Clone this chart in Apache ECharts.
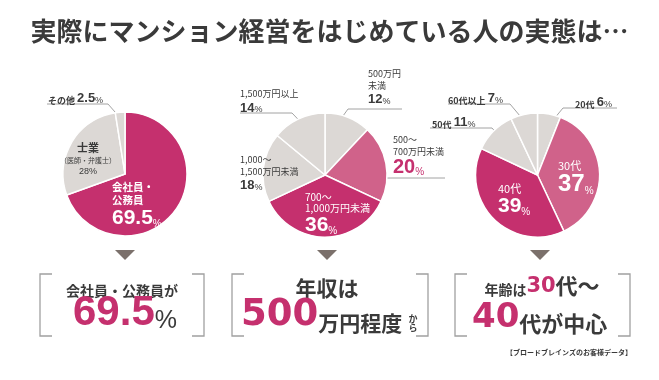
<!DOCTYPE html>
<html><head><meta charset="utf-8">
<script src="https://cdn.jsdelivr.net/npm/echarts@6/dist/echarts.min.js"></script>
<style>html,body{margin:0;padding:0;background:#fff}#c{width:659px;height:380px}</style>
</head><body><div id="c"></div>
<script>
// ---- data ----
const cats1 = ['会社員・\n公務員', '士業\n（医師・弁護士）', 'その他'];
const vals1 = [69.5, 28, 2.5];
const cats2 = ['500万円\n未満', '500〜\n700万円未満', '700〜\n1,000万円未満', '1,000〜\n1,500万円未満', '1,500万円以上'];
const vals2 = [12, 20, 36, 18, 14];
const cats3 = ['20代', '30代', '40代', '50代', '60代以上'];
const vals3 = [6, 37, 39, 11, 7];
const titleText = '実際にマンション経営をはじめている人の実態は…';
const box1Head = '会社員・公務員が', box1Num = '69.5';
const box2Head = '年収は', box2Num = '500', box2Tail = '万円程度';
const box3Pre = '年齢は', box3Num1 = '30', box3Mid = '代〜', box3Num2 = '40', box3Tail = '代が中心';
const footer = '【ブロードブレインズのお客様データ】';

// ---- styles ----
const MAG = '#c5306e', PINK = '#d0628a', GRAY = '#dcd8d5', DARK = '#3a3a3a';
const JP = '"Noto Sans CJK JP", sans-serif';
const NUM = '"Liberation Sans", Arial, sans-serif';
const NUMW = '"DejaVu Sans", sans-serif';
const colors1 = [MAG, GRAY, GRAY];
const colors2 = [GRAY, PINK, MAG, GRAY, GRAY];
const colors3 = [GRAY, PINK, MAG, GRAY, GRAY];

const RICH = {
  wN: {color:'#fff', fontSize:10.5, fontWeight:'bold', fontFamily:JP, lineHeight:13},
  wR: {color:'#fff', fontSize:10, fontFamily:JP, lineHeight:11.5},
  wR2:{color:'#fff', fontSize:11, fontFamily:JP, lineHeight:13},
  wV: {color:'#fff', fontSize:21, fontWeight:'bold', fontFamily:NUM, lineHeight:22, verticalAlign:'bottom'},
  wVL:{color:'#fff', fontSize:24, fontWeight:'bold', fontFamily:NUM, lineHeight:24, verticalAlign:'bottom'},
  wP: {color:'#fff', fontSize:10, fontFamily:NUM, lineHeight:16, verticalAlign:'bottom'},
  dN: {color:DARK, fontSize:9, fontFamily:JP, lineHeight:11.5},
  dNB:{color:DARK, fontSize:9, fontFamily:JP, fontWeight:'bold', lineHeight:14, verticalAlign:'bottom'},
  dV: {color:DARK, fontSize:13, fontWeight:'bold', fontFamily:NUM, lineHeight:15, verticalAlign:'bottom'},
  dP: {color:DARK, fontSize:9, fontFamily:NUM, lineHeight:13, verticalAlign:'bottom'},
  mV: {color:MAG, fontSize:20, fontWeight:'bold', fontFamily:NUM, lineHeight:20, verticalAlign:'bottom'},
  mP: {color:MAG, fontSize:10, fontFamily:NUM, lineHeight:16, verticalAlign:'bottom'},
  st: {color:DARK, fontSize:11, fontWeight:'bold', fontFamily:JP, lineHeight:14},
  ss: {color:DARK, fontSize:7, fontFamily:JP, lineHeight:11},
  sv: {color:DARK, fontSize:9, fontFamily:NUM, lineHeight:12}
};

// label style per item: n = name token styles per line, v = value, p = percent, inline
const LSTYLE = [
  [ {n:['wN','wN'], v:'wV', p:'wP', inside:true},
    {n:['st','ss'], v:'sv', p:'sv', inside:true},
    {n:['dNB'], v:'dV', p:'dP', inline:true} ],
  [ {n:['dN','dN'], v:'dV', p:'dP'},
    {n:['dN','dN'], v:'mV', p:'mP'},
    {n:['wR','wR'], v:'wV', p:'wP', inside:true},
    {n:['dN','dN'], v:'dV', p:'dP', noLine:true},
    {n:['dN'], v:'dV', p:'dP'} ],
  [ {n:['dNB'], v:'dV', p:'dP', inline:true},
    {n:['wR2'], v:'wVL', p:'wP', inside:true},
    {n:['wR2'], v:'wV', p:'wP', inside:true},
    {n:['dNB'], v:'dV', p:'dP', inline:true},
    {n:['dNB'], v:'dV', p:'dP', inline:true} ]
];

// label placement (layout only)
const PIES = [{c:[125,174], r:62}, {c:[325,175], r:62}, {c:[537.5,175], r:62}];
const LAYOUT = [
  [ {x:112, y:181},
    {x:88, y:141, align:'center'},
    {x:48, y:90, line:{y:104, ex:108, tx:47, f:0.9, d:0}} ],
  [ {x:368, y:68, line:{y:109, ex:348, tx:402, f:0.85, d:-8}},
    {x:393, y:134, line:{y:178, ex:393, tx:445, f:0.7, d:15}},
    {x:305, y:191},
    {x:240, y:154},
    {x:240, y:88, line:{y:113, ex:292, tx:240, f:0.8, d:4}} ],
  [ {x:575, y:94, line:{y:108, ex:563, tx:617, f:0.92, d:5}},
    {x:558, y:159},
    {x:498, y:182},
    {x:432, y:114, line:{y:128, ex:492, tx:430, f:0.78, d:0}},
    {x:448, y:90, line:{y:104, ex:510, tx:448, f:0.86, d:0}} ]
];

function fmt(s) {
  return function(p) {
    const st = LSTYLE[s][p.dataIndex];
    const lines = p.name.split('\n');
    const valTxt = '{' + st.v + '|' + p.value + '}{' + st.p + '|%}';
    if (st.inline) return '{' + st.n[0] + '|' + lines[0] + ' }' + valTxt;
    const nameTxt = lines.map((l, i) => '{' + st.n[i] + '|' + l + '}').join('\n');
    return nameTxt + '\n' + valTxt;
  };
}

function layoutFn(s, vals) {
  const total = vals.reduce((a, b) => a + b, 0);
  return function(params) {
    const L = LAYOUT[s][params.dataIndex];
    const ret = {x: L.x, y: L.y, align: L.align || 'left', verticalAlign: 'top'};
    if (L.line) {
      let cum = 0;
      for (let i = 0; i < params.dataIndex; i++) cum += vals[i];
      const th = (360 * (cum + vals[params.dataIndex] / 2) / total + L.line.d) * Math.PI / 180;
      const P = PIES[s];
      const sx = P.c[0] + P.r * L.line.f * Math.sin(th);
      const sy = P.c[1] - P.r * L.line.f * Math.cos(th);
      ret.labelLinePoints = [[sx, sy], [L.line.ex, L.line.y], [L.line.tx, L.line.y]];
    }
    return ret;
  };
}

function buildData(s, cats, vals, colors) {
  return vals.map((v, i) => {
    const st = LSTYLE[s][i];
    const item = {name: cats[i], value: v, itemStyle: {color: colors[i]}};
    if (st.inside) { item.label = {position: 'inside'}; item.labelLine = {show: false}; }
    if (st.noLine) { item.labelLine = {show: false}; }
    return item;
  });
}

function pieSeries(s, cats, vals, colors) {
  return {
    type: 'pie', center: PIES[s].c, radius: PIES[s].r, startAngle: 90, clockwise: true,
    avoidLabelOverlap: false, silent: true, animation: false,
    itemStyle: {borderColor: '#fff', borderWidth: 1.5},
    label: {show: true, position: 'outside', formatter: fmt(s), rich: RICH, align: 'left'},
    labelLine: {show: true, length: 6, length2: 6, lineStyle: {color: '#8c8c8c', width: 0.8}},
    labelLayout: layoutFn(s, vals),
    data: buildData(s, cats, vals, colors)
  };
}

// decorations
const BOXES = [[40, 204], [232, 428], [455, 630]];
const BOX_Y = [274, 336], ARM = 12;
const TRI_X = [125, 327, 540], TRI_Y = [250, 260];
const graphics = [];
BOXES.forEach(b => {
  graphics.push({type:'polyline', silent:true, shape:{points:[[b[0]+ARM,BOX_Y[0]],[b[0],BOX_Y[0]],[b[0],BOX_Y[1]],[b[0]+ARM,BOX_Y[1]]]}, style:{stroke:'#a0a0a0', lineWidth:1.3, fill:null}});
  graphics.push({type:'polyline', silent:true, shape:{points:[[b[1]-ARM,BOX_Y[0]],[b[1],BOX_Y[0]],[b[1],BOX_Y[1]],[b[1]-ARM,BOX_Y[1]]]}, style:{stroke:'#a0a0a0', lineWidth:1.3, fill:null}});
});
TRI_X.forEach(x => {
  graphics.push({type:'polygon', silent:true, shape:{points:[[x-10,TRI_Y[0]],[x+10,TRI_Y[0]],[x,TRI_Y[1]]]}, style:{fill:'#7b706b'}});
});
// box 1
graphics.push({type:'text', silent:true, style:{x:122, y:291, text:box1Head, align:'center', verticalAlign:'middle', font:'bold 14px ' + JP, fill:DARK}});
graphics.push({type:'text', silent:true, style:{x:125, y:334, align:'center', verticalAlign:'bottom',
  text:'{m|' + box1Num + '}{p|%}',
  rich:{m:{fontSize:42, fontWeight:'bold', fontFamily:NUM, fill:MAG, lineHeight:42, verticalAlign:'bottom'},
        p:{fontSize:25, fontFamily:NUM, fill:DARK, lineHeight:36, verticalAlign:'bottom'}}}});
// box 2
graphics.push({type:'text', silent:true, style:{x:327, y:288, text:box2Head, align:'center', verticalAlign:'middle', font:'bold 21px ' + JP, fill:DARK}});
graphics.push({type:'text', silent:true, style:{x:241, y:334, align:'left', verticalAlign:'bottom',
  text:'{m|' + box2Num + '}{d|' + box2Tail + '}',
  rich:{m:{fontSize:37, fontWeight:'bold', fontFamily:NUMW, fill:MAG, lineHeight:38, verticalAlign:'bottom'},
        d:{fontSize:21, fontWeight:'bold', fontFamily:JP, fill:DARK, lineHeight:30, verticalAlign:'bottom'}}}});
graphics.push({type:'text', silent:true, style:{x:413, y:319, text:'か', align:'center', verticalAlign:'middle', font:'bold 9px ' + JP, fill:DARK}});
graphics.push({type:'text', silent:true, style:{x:413, y:328, text:'ら', align:'center', verticalAlign:'middle', font:'bold 9px ' + JP, fill:DARK}});
// box 3
graphics.push({type:'text', silent:true, style:{x:542, y:297, align:'center', verticalAlign:'bottom',
  text:'{a|' + box3Pre + '}{m|' + box3Num1 + '}{b|' + box3Mid + '}',
  rich:{a:{fontSize:14, fontWeight:'bold', fontFamily:JP, fill:DARK, lineHeight:20, verticalAlign:'bottom'},
        m:{fontSize:21, fontWeight:'bold', fontFamily:NUMW, fill:MAG, lineHeight:22, verticalAlign:'bottom'},
        b:{fontSize:22, fontWeight:'bold', fontFamily:JP, fill:DARK, lineHeight:26, verticalAlign:'bottom'}}}});
graphics.push({type:'text', silent:true, style:{x:472, y:335, align:'left', verticalAlign:'bottom',
  text:'{m|' + box3Num2 + '}{b|' + box3Tail + '}',
  rich:{m:{fontSize:34, fontWeight:'bold', fontFamily:NUMW, fill:MAG, lineHeight:34, verticalAlign:'bottom'},
        b:{fontSize:22, fontWeight:'bold', fontFamily:JP, fill:DARK, lineHeight:28, verticalAlign:'bottom'}}}});
graphics.push({type:'text', silent:true, style:{x:632, y:352, text:footer, align:'right', verticalAlign:'middle', font:'bold 7px ' + JP, fill:DARK}});

const chart = echarts.init(document.getElementById('c'), null, {renderer:'canvas'});
chart.setOption({
  animation: false,
  backgroundColor: '#fff',
  title: {text: titleText, left: 'center', top: 13,
    textStyle: {fontSize: 26, fontWeight: 'bold', color: DARK, fontFamily: JP}},
  series: [pieSeries(0, cats1, vals1, colors1), pieSeries(1, cats2, vals2, colors2), pieSeries(2, cats3, vals3, colors3)],
  graphic: graphics
});
</script>
</body></html>
